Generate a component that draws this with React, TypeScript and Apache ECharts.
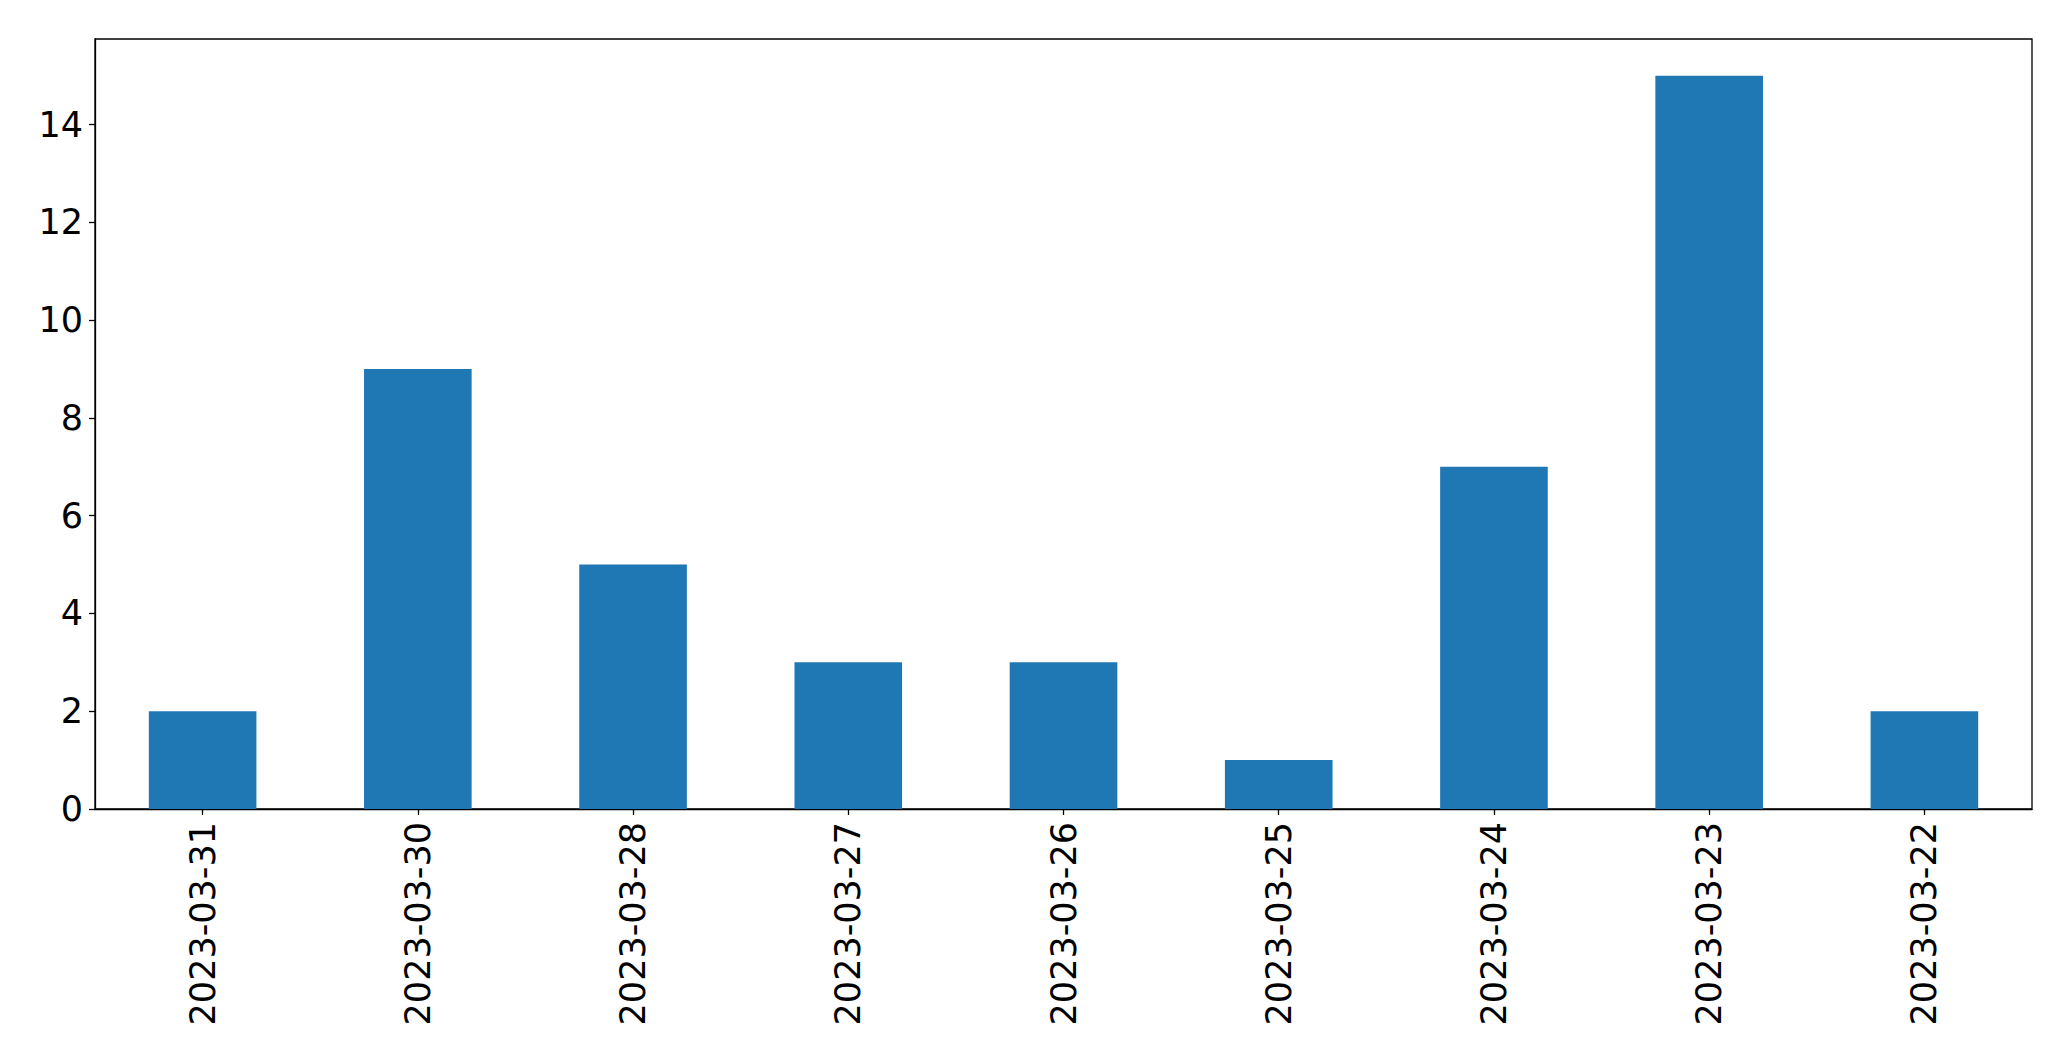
import React, { useEffect, useRef } from "react";
import * as echarts from "echarts";

const categories = [
  "2023-03-31",
  "2023-03-30",
  "2023-03-28",
  "2023-03-27",
  "2023-03-26",
  "2023-03-25",
  "2023-03-24",
  "2023-03-23",
  "2023-03-22",
];
const counts = [2, 9, 5, 3, 3, 1, 7, 15, 2];
const yMax = 15.75;
const yInterval = 2;

export default function App() {
  const ref = useRef<HTMLDivElement>(null);
  useEffect(() => {
    if (!ref.current) return;
    const chart = echarts.init(ref.current, null, { renderer: "svg" });
    const font = "DejaVu Sans";
    chart.setOption({
      animation: false,
      backgroundColor: "#ffffff",
      grid: {
        left: 95,
        top: 39,
        width: 1937,
        height: 770,
        show: true,
        borderColor: "#000000",
        borderWidth: 1.3,
        backgroundColor: "transparent",
        containLabel: false,
      },
      xAxis: {
        type: "category",
        data: categories,
        axisLine: { show: true, lineStyle: { color: "#000", width: 1.3 } },
        axisTick: { show: true, alignWithLabel: true, length: 6, lineStyle: { color: "#000", width: 1.3 } },
        axisLabel: {
          rotate: 90,
          interval: 0,
          margin: 13,
          color: "#000",
          fontFamily: font,
          fontSize: 35,
        },
        splitLine: { show: false },
      },
      yAxis: {
        type: "value",
        min: 0,
        max: yMax,
        interval: yInterval,
        axisLine: { show: true, lineStyle: { color: "#000", width: 1.3 } },
        axisTick: { show: true, length: 6, lineStyle: { color: "#000", width: 1.3 } },
        axisLabel: {
          showMaxLabel: false,
          margin: 12,
          color: "#000",
          fontFamily: font,
          fontSize: 35,
        },
        splitLine: { show: false },
      },
      series: [
        {
          type: "bar",
          data: counts,
          barWidth: "50%",
          itemStyle: { color: "#1f77b4" },
        },
      ],
    });
    return () => chart.dispose();
  }, []);
  return (
    <div
      ref={ref}
      style={{ position: "fixed", left: 0, top: 0, width: 2071, height: 1061, background: "#fff" }}
    />
  );
}
